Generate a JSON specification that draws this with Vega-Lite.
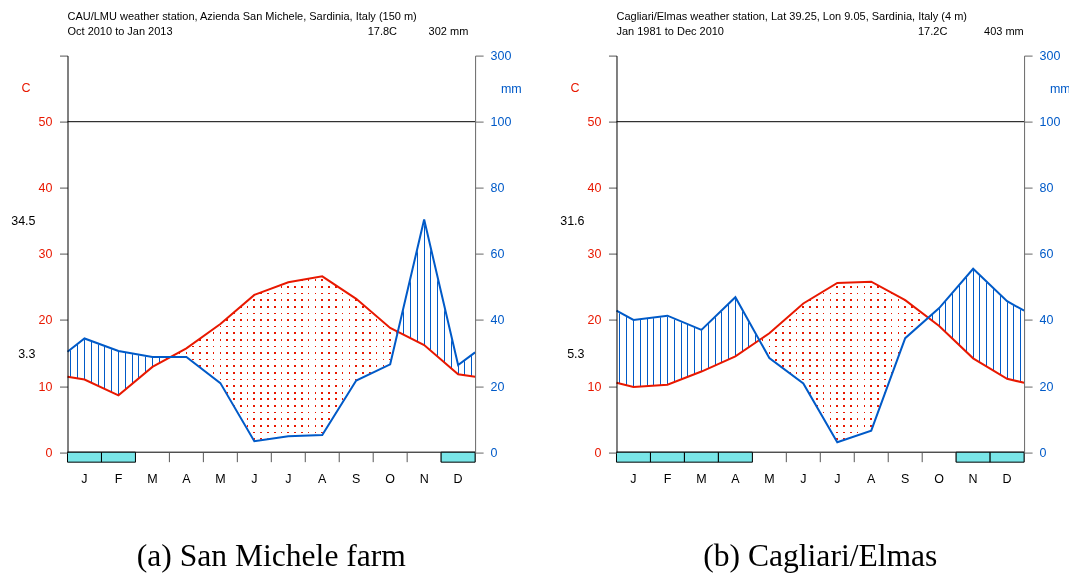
{
"$schema":"https://vega.github.io/schema/vega-lite/v6.json",
"background":"white",
"padding":{"left":10.5,"top":10.6,"right":0,"bottom":0},
"spacing":141,
"bounds":"flush",
"config":{"view":{"stroke":null},"text":{"font":"Liberation Sans","fontSize":12.5},"axis":{"labelFont":"Liberation Sans","titleFont":"Liberation Sans"}},
"datasets":{
"months":[{"m":1,"l":"J"},{"m":2,"l":"F"},{"m":3,"l":"M"},{"m":4,"l":"A"},{"m":5,"l":"M"},{"m":6,"l":"J"},{"m":7,"l":"J"},{"m":8,"l":"A"},{"m":9,"l":"S"},{"m":10,"l":"O"},{"m":11,"l":"N"},{"m":12,"l":"D"}],
"sm":[{"m":0.5,"t":11.4,"p":30.4},{"m":1,"t":11.0,"p":34.4},{"m":2,"t":8.6,"p":30.6},{"m":3,"t":12.9,"p":28.8},{"m":4,"t":15.7,"p":28.8},{"m":5,"t":19.4,"p":20.9},{"m":6,"t":23.8,"p":3.3},{"m":7,"t":25.7,"p":4.8},{"m":8,"t":26.6,"p":5.2},{"m":9,"t":23.2,"p":21.7},{"m":10,"t":18.8,"p":26.6},{"m":11,"t":16.2,"p":70.4},{"m":12,"t":11.8,"p":26.4},{"m":12.5,"t":11.4,"p":30.2}],
"ce":[{"m":0.5,"t":10.5,"p":42.8},{"m":1,"t":9.85,"p":40.0},{"m":2,"t":10.2,"p":41.3},{"m":3,"t":12.2,"p":37.0},{"m":4,"t":14.5,"p":46.9},{"m":5,"t":18.0,"p":28.5},{"m":6,"t":22.5,"p":20.8},{"m":7,"t":25.6,"p":3.0},{"m":8,"t":25.8,"p":6.5},{"m":9,"t":23.0,"p":34.5},{"m":10,"t":19.1,"p":43.6},{"m":11,"t":14.2,"p":55.5},{"m":12,"t":11.1,"p":45.7},{"m":12.5,"t":10.5,"p":42.8}]
},
"hconcat":[
{
"width":407.6,"height":396.6,
"data":{"name":"sm"},
"resolve":{"scale":{"y":"independent"}},
"layer":[
{"mark":{"type":"area","fill":{"gradient":"linear","x1":0,"y1":0,"x2":1,"y2":0,"stops":[
{"offset":0,"color":"#fff"},
{"offset":0.0071,"color":"#fff"},{"offset":0.0071,"color":"#005ac8"},{"offset":0.0095,"color":"#005ac8"},{"offset":0.0095,"color":"#fff"},
{"offset":0.0238,"color":"#fff"},{"offset":0.0238,"color":"#005ac8"},{"offset":0.0262,"color":"#005ac8"},{"offset":0.0262,"color":"#fff"},
{"offset":0.0405,"color":"#fff"},{"offset":0.0405,"color":"#005ac8"},{"offset":0.0429,"color":"#005ac8"},{"offset":0.0429,"color":"#fff"},
{"offset":0.0571,"color":"#fff"},{"offset":0.0571,"color":"#005ac8"},{"offset":0.0595,"color":"#005ac8"},{"offset":0.0595,"color":"#fff"},
{"offset":0.0738,"color":"#fff"},{"offset":0.0738,"color":"#005ac8"},{"offset":0.0762,"color":"#005ac8"},{"offset":0.0762,"color":"#fff"},
{"offset":0.0905,"color":"#fff"},{"offset":0.0905,"color":"#005ac8"},{"offset":0.0929,"color":"#005ac8"},{"offset":0.0929,"color":"#fff"},
{"offset":0.1071,"color":"#fff"},{"offset":0.1071,"color":"#005ac8"},{"offset":0.1095,"color":"#005ac8"},{"offset":0.1095,"color":"#fff"},
{"offset":0.1238,"color":"#fff"},{"offset":0.1238,"color":"#005ac8"},{"offset":0.1262,"color":"#005ac8"},{"offset":0.1262,"color":"#fff"},
{"offset":0.1405,"color":"#fff"},{"offset":0.1405,"color":"#005ac8"},{"offset":0.1429,"color":"#005ac8"},{"offset":0.1429,"color":"#fff"},
{"offset":0.1571,"color":"#fff"},{"offset":0.1571,"color":"#005ac8"},{"offset":0.1595,"color":"#005ac8"},{"offset":0.1595,"color":"#fff"},
{"offset":0.1738,"color":"#fff"},{"offset":0.1738,"color":"#005ac8"},{"offset":0.1762,"color":"#005ac8"},{"offset":0.1762,"color":"#fff"},
{"offset":0.1905,"color":"#fff"},{"offset":0.1905,"color":"#005ac8"},{"offset":0.1929,"color":"#005ac8"},{"offset":0.1929,"color":"#fff"},
{"offset":0.2071,"color":"#fff"},{"offset":0.2071,"color":"#005ac8"},{"offset":0.2095,"color":"#005ac8"},{"offset":0.2095,"color":"#fff"},
{"offset":0.2238,"color":"#fff"},{"offset":0.2238,"color":"#005ac8"},{"offset":0.2262,"color":"#005ac8"},{"offset":0.2262,"color":"#fff"},
{"offset":0.2405,"color":"#fff"},{"offset":0.2405,"color":"#005ac8"},{"offset":0.2429,"color":"#005ac8"},{"offset":0.2429,"color":"#fff"},
{"offset":0.8238,"color":"#fff"},{"offset":0.8238,"color":"#005ac8"},{"offset":0.8262,"color":"#005ac8"},{"offset":0.8262,"color":"#fff"},
{"offset":0.8405,"color":"#fff"},{"offset":0.8405,"color":"#005ac8"},{"offset":0.8429,"color":"#005ac8"},{"offset":0.8429,"color":"#fff"},
{"offset":0.8571,"color":"#fff"},{"offset":0.8571,"color":"#005ac8"},{"offset":0.8595,"color":"#005ac8"},{"offset":0.8595,"color":"#fff"},
{"offset":0.8738,"color":"#fff"},{"offset":0.8738,"color":"#005ac8"},{"offset":0.8762,"color":"#005ac8"},{"offset":0.8762,"color":"#fff"},
{"offset":0.8905,"color":"#fff"},{"offset":0.8905,"color":"#005ac8"},{"offset":0.8929,"color":"#005ac8"},{"offset":0.8929,"color":"#fff"},
{"offset":0.9071,"color":"#fff"},{"offset":0.9071,"color":"#005ac8"},{"offset":0.9095,"color":"#005ac8"},{"offset":0.9095,"color":"#fff"},
{"offset":0.9238,"color":"#fff"},{"offset":0.9238,"color":"#005ac8"},{"offset":0.9262,"color":"#005ac8"},{"offset":0.9262,"color":"#fff"},
{"offset":0.9405,"color":"#fff"},{"offset":0.9405,"color":"#005ac8"},{"offset":0.9429,"color":"#005ac8"},{"offset":0.9429,"color":"#fff"},
{"offset":0.9571,"color":"#fff"},{"offset":0.9571,"color":"#005ac8"},{"offset":0.9595,"color":"#005ac8"},{"offset":0.9595,"color":"#fff"},
{"offset":0.9738,"color":"#fff"},{"offset":0.9738,"color":"#005ac8"},{"offset":0.9762,"color":"#005ac8"},{"offset":0.9762,"color":"#fff"},
{"offset":0.9905,"color":"#fff"},{"offset":0.9905,"color":"#005ac8"},{"offset":0.9929,"color":"#005ac8"},{"offset":0.9929,"color":"#fff"},
{"offset":1,"color":"#fff"}]}},
"encoding":{"x":{"field":"m","type":"quantitative","scale":{"domain":[0.5,12.5],"nice":false,"zero":false,"padding":0},"axis":null},"y":{"field":"p","type":"quantitative","scale":{"domain":[0,120]},"axis":null}}},
{"mark":{"type":"area","fill":{"gradient":"linear","x1":0,"y1":0,"x2":1,"y2":0,"stops":[
{"offset":0,"color":"#fff"},
{"offset":0.2563,"color":"#fff"},{"offset":0.2563,"color":"#e81800"},{"offset":0.2603,"color":"#e81800"},{"offset":0.2603,"color":"#fff"},
{"offset":0.2730,"color":"#fff"},{"offset":0.2730,"color":"#e81800"},{"offset":0.2770,"color":"#e81800"},{"offset":0.2770,"color":"#fff"},
{"offset":0.2897,"color":"#fff"},{"offset":0.2897,"color":"#e81800"},{"offset":0.2937,"color":"#e81800"},{"offset":0.2937,"color":"#fff"},
{"offset":0.3063,"color":"#fff"},{"offset":0.3063,"color":"#e81800"},{"offset":0.3103,"color":"#e81800"},{"offset":0.3103,"color":"#fff"},
{"offset":0.3230,"color":"#fff"},{"offset":0.3230,"color":"#e81800"},{"offset":0.3270,"color":"#e81800"},{"offset":0.3270,"color":"#fff"},
{"offset":0.3397,"color":"#fff"},{"offset":0.3397,"color":"#e81800"},{"offset":0.3437,"color":"#e81800"},{"offset":0.3437,"color":"#fff"},
{"offset":0.3563,"color":"#fff"},{"offset":0.3563,"color":"#e81800"},{"offset":0.3603,"color":"#e81800"},{"offset":0.3603,"color":"#fff"},
{"offset":0.3730,"color":"#fff"},{"offset":0.3730,"color":"#e81800"},{"offset":0.3770,"color":"#e81800"},{"offset":0.3770,"color":"#fff"},
{"offset":0.3897,"color":"#fff"},{"offset":0.3897,"color":"#e81800"},{"offset":0.3937,"color":"#e81800"},{"offset":0.3937,"color":"#fff"},
{"offset":0.4063,"color":"#fff"},{"offset":0.4063,"color":"#e81800"},{"offset":0.4103,"color":"#e81800"},{"offset":0.4103,"color":"#fff"},
{"offset":0.4230,"color":"#fff"},{"offset":0.4230,"color":"#e81800"},{"offset":0.4270,"color":"#e81800"},{"offset":0.4270,"color":"#fff"},
{"offset":0.4397,"color":"#fff"},{"offset":0.4397,"color":"#e81800"},{"offset":0.4437,"color":"#e81800"},{"offset":0.4437,"color":"#fff"},
{"offset":0.4563,"color":"#fff"},{"offset":0.4563,"color":"#e81800"},{"offset":0.4603,"color":"#e81800"},{"offset":0.4603,"color":"#fff"},
{"offset":0.4730,"color":"#fff"},{"offset":0.4730,"color":"#e81800"},{"offset":0.4770,"color":"#e81800"},{"offset":0.4770,"color":"#fff"},
{"offset":0.4897,"color":"#fff"},{"offset":0.4897,"color":"#e81800"},{"offset":0.4937,"color":"#e81800"},{"offset":0.4937,"color":"#fff"},
{"offset":0.5063,"color":"#fff"},{"offset":0.5063,"color":"#e81800"},{"offset":0.5103,"color":"#e81800"},{"offset":0.5103,"color":"#fff"},
{"offset":0.5230,"color":"#fff"},{"offset":0.5230,"color":"#e81800"},{"offset":0.5270,"color":"#e81800"},{"offset":0.5270,"color":"#fff"},
{"offset":0.5397,"color":"#fff"},{"offset":0.5397,"color":"#e81800"},{"offset":0.5437,"color":"#e81800"},{"offset":0.5437,"color":"#fff"},
{"offset":0.5563,"color":"#fff"},{"offset":0.5563,"color":"#e81800"},{"offset":0.5603,"color":"#e81800"},{"offset":0.5603,"color":"#fff"},
{"offset":0.5730,"color":"#fff"},{"offset":0.5730,"color":"#e81800"},{"offset":0.5770,"color":"#e81800"},{"offset":0.5770,"color":"#fff"},
{"offset":0.5897,"color":"#fff"},{"offset":0.5897,"color":"#e81800"},{"offset":0.5937,"color":"#e81800"},{"offset":0.5937,"color":"#fff"},
{"offset":0.6063,"color":"#fff"},{"offset":0.6063,"color":"#e81800"},{"offset":0.6103,"color":"#e81800"},{"offset":0.6103,"color":"#fff"},
{"offset":0.6230,"color":"#fff"},{"offset":0.6230,"color":"#e81800"},{"offset":0.6270,"color":"#e81800"},{"offset":0.6270,"color":"#fff"},
{"offset":0.6397,"color":"#fff"},{"offset":0.6397,"color":"#e81800"},{"offset":0.6437,"color":"#e81800"},{"offset":0.6437,"color":"#fff"},
{"offset":0.6563,"color":"#fff"},{"offset":0.6563,"color":"#e81800"},{"offset":0.6603,"color":"#e81800"},{"offset":0.6603,"color":"#fff"},
{"offset":0.6730,"color":"#fff"},{"offset":0.6730,"color":"#e81800"},{"offset":0.6770,"color":"#e81800"},{"offset":0.6770,"color":"#fff"},
{"offset":0.6897,"color":"#fff"},{"offset":0.6897,"color":"#e81800"},{"offset":0.6937,"color":"#e81800"},{"offset":0.6937,"color":"#fff"},
{"offset":0.7063,"color":"#fff"},{"offset":0.7063,"color":"#e81800"},{"offset":0.7103,"color":"#e81800"},{"offset":0.7103,"color":"#fff"},
{"offset":0.7230,"color":"#fff"},{"offset":0.7230,"color":"#e81800"},{"offset":0.7270,"color":"#e81800"},{"offset":0.7270,"color":"#fff"},
{"offset":0.7397,"color":"#fff"},{"offset":0.7397,"color":"#e81800"},{"offset":0.7437,"color":"#e81800"},{"offset":0.7437,"color":"#fff"},
{"offset":0.7563,"color":"#fff"},{"offset":0.7563,"color":"#e81800"},{"offset":0.7603,"color":"#e81800"},{"offset":0.7603,"color":"#fff"},
{"offset":0.7730,"color":"#fff"},{"offset":0.7730,"color":"#e81800"},{"offset":0.7770,"color":"#e81800"},{"offset":0.7770,"color":"#fff"},
{"offset":0.7897,"color":"#fff"},{"offset":0.7897,"color":"#e81800"},{"offset":0.7937,"color":"#e81800"},{"offset":0.7937,"color":"#fff"},
{"offset":0.8063,"color":"#fff"},{"offset":0.8063,"color":"#e81800"},{"offset":0.8103,"color":"#e81800"},{"offset":0.8103,"color":"#fff"},
{"offset":1,"color":"#fff"}]}},
"encoding":{"x":{"field":"m","type":"quantitative","scale":{"domain":[0.5,12.5],"nice":false,"zero":false,"padding":0},"axis":null},"y":{"field":"t","type":"quantitative","scale":{"domain":[0,60]},"axis":null}}},
{"mark":{"type":"area","stroke":"#fff","strokeWidth":1.5,"fill":{"gradient":"linear","x1":0,"y1":0,"x2":1,"y2":0,"stops":[
{"offset":0,"color":"rgba(255,255,255,0)"},{"offset":0.2542,"color":"rgba(255,255,255,0)"},{"offset":0.2542,"color":"#fff"},{"offset":0.81,"color":"#fff"},{"offset":0.81,"color":"rgba(255,255,255,0)"},{"offset":1,"color":"rgba(255,255,255,0)"}]}},
"encoding":{"x":{"field":"m","type":"quantitative","scale":{"domain":[0.5,12.5],"nice":false,"zero":false,"padding":0},"axis":null},"y":{"field":"p","type":"quantitative","scale":{"domain":[0,120]},"axis":null}}},
{"mark":{"type":"area","blend":"lighten","fill":{"gradient":"linear","x1":0,"y1":0,"x2":0,"y2":1,"stops":[
{"offset":0,"color":"#fff"},
{"offset":0.0178,"color":"#fff"},{"offset":0.0178,"color":"#e81800"},{"offset":0.0274,"color":"#e81800"},{"offset":0.0274,"color":"#fff"},
{"offset":0.0554,"color":"#fff"},{"offset":0.0554,"color":"#e81800"},{"offset":0.0650,"color":"#e81800"},{"offset":0.0650,"color":"#fff"},
{"offset":0.0929,"color":"#fff"},{"offset":0.0929,"color":"#e81800"},{"offset":0.1025,"color":"#e81800"},{"offset":0.1025,"color":"#fff"},
{"offset":0.1305,"color":"#fff"},{"offset":0.1305,"color":"#e81800"},{"offset":0.1401,"color":"#e81800"},{"offset":0.1401,"color":"#fff"},
{"offset":0.1681,"color":"#fff"},{"offset":0.1681,"color":"#e81800"},{"offset":0.1777,"color":"#e81800"},{"offset":0.1777,"color":"#fff"},
{"offset":0.2057,"color":"#fff"},{"offset":0.2057,"color":"#e81800"},{"offset":0.2153,"color":"#e81800"},{"offset":0.2153,"color":"#fff"},
{"offset":0.2433,"color":"#fff"},{"offset":0.2433,"color":"#e81800"},{"offset":0.2529,"color":"#e81800"},{"offset":0.2529,"color":"#fff"},
{"offset":0.2809,"color":"#fff"},{"offset":0.2809,"color":"#e81800"},{"offset":0.2905,"color":"#e81800"},{"offset":0.2905,"color":"#fff"},
{"offset":0.3185,"color":"#fff"},{"offset":0.3185,"color":"#e81800"},{"offset":0.3281,"color":"#e81800"},{"offset":0.3281,"color":"#fff"},
{"offset":0.3561,"color":"#fff"},{"offset":0.3561,"color":"#e81800"},{"offset":0.3657,"color":"#e81800"},{"offset":0.3657,"color":"#fff"},
{"offset":0.3937,"color":"#fff"},{"offset":0.3937,"color":"#e81800"},{"offset":0.4033,"color":"#e81800"},{"offset":0.4033,"color":"#fff"},
{"offset":0.4313,"color":"#fff"},{"offset":0.4313,"color":"#e81800"},{"offset":0.4409,"color":"#e81800"},{"offset":0.4409,"color":"#fff"},
{"offset":0.4689,"color":"#fff"},{"offset":0.4689,"color":"#e81800"},{"offset":0.4785,"color":"#e81800"},{"offset":0.4785,"color":"#fff"},
{"offset":0.5065,"color":"#fff"},{"offset":0.5065,"color":"#e81800"},{"offset":0.5161,"color":"#e81800"},{"offset":0.5161,"color":"#fff"},
{"offset":0.5441,"color":"#fff"},{"offset":0.5441,"color":"#e81800"},{"offset":0.5537,"color":"#e81800"},{"offset":0.5537,"color":"#fff"},
{"offset":0.5817,"color":"#fff"},{"offset":0.5817,"color":"#e81800"},{"offset":0.5913,"color":"#e81800"},{"offset":0.5913,"color":"#fff"},
{"offset":0.6193,"color":"#fff"},{"offset":0.6193,"color":"#e81800"},{"offset":0.6289,"color":"#e81800"},{"offset":0.6289,"color":"#fff"},
{"offset":0.6569,"color":"#fff"},{"offset":0.6569,"color":"#e81800"},{"offset":0.6665,"color":"#e81800"},{"offset":0.6665,"color":"#fff"},
{"offset":0.6944,"color":"#fff"},{"offset":0.6944,"color":"#e81800"},{"offset":0.7040,"color":"#e81800"},{"offset":0.7040,"color":"#fff"},
{"offset":0.7320,"color":"#fff"},{"offset":0.7320,"color":"#e81800"},{"offset":0.7416,"color":"#e81800"},{"offset":0.7416,"color":"#fff"},
{"offset":0.7696,"color":"#fff"},{"offset":0.7696,"color":"#e81800"},{"offset":0.7792,"color":"#e81800"},{"offset":0.7792,"color":"#fff"},
{"offset":0.8072,"color":"#fff"},{"offset":0.8072,"color":"#e81800"},{"offset":0.8168,"color":"#e81800"},{"offset":0.8168,"color":"#fff"},
{"offset":0.8448,"color":"#fff"},{"offset":0.8448,"color":"#e81800"},{"offset":0.8544,"color":"#e81800"},{"offset":0.8544,"color":"#fff"},
{"offset":0.8824,"color":"#fff"},{"offset":0.8824,"color":"#e81800"},{"offset":0.8920,"color":"#e81800"},{"offset":0.8920,"color":"#fff"},
{"offset":0.9200,"color":"#fff"},{"offset":0.9200,"color":"#e81800"},{"offset":0.9296,"color":"#e81800"},{"offset":0.9296,"color":"#fff"},
{"offset":1,"color":"#fff"}]}},
"encoding":{"x":{"field":"m","type":"quantitative","scale":{"domain":[0.5,12.5],"nice":false,"zero":false,"padding":0},"axis":null},"y":{"field":"t","type":"quantitative","scale":{"domain":[0,60]},"axis":null}}},
{"data":{"values":[{}]},"mark":{"type":"rule","color":"#000","strokeWidth":1},"encoding":{"y":{"datum":50,"type":"quantitative","scale":{"domain":[0,60]},"axis":null}}},
{"data":{"values":[{}]},"mark":{"type":"rule","color":"#000","strokeWidth":1},"encoding":{"y":{"datum":0,"type":"quantitative","scale":{"domain":[0,60]},"axis":null}}},
{"data":{"name":"months"},"mark":{"type":"rule","color":"#555","strokeWidth":1,"xOffset":16.98},"encoding":{"x":{"field":"m","type":"quantitative","scale":{"domain":[0.5,12.5],"nice":false,"zero":false,"padding":0},"axis":null},"y":{"datum":0,"type":"quantitative","scale":{"domain":[0,60]},"axis":null},"y2":{"datum":-1.51}}},
{"data":{"values":[{"m":1},{"m":2},{"m":12}]},"mark":{"type":"bar","fill":"#79e6e8","stroke":"#000","strokeWidth":1,"width":33.97},"encoding":{"x":{"field":"m","type":"quantitative","scale":{"domain":[0.5,12.5],"nice":false,"zero":false,"padding":0},"axis":null},"y":{"datum":0,"type":"quantitative","scale":{"domain":[0,60]},"axis":null},"y2":{"datum":-1.51}}},
{"data":{"name":"months"},"mark":{"type":"text","baseline":"middle","align":"center","fontSize":12.5,"color":"#000"},"encoding":{"x":{"field":"m","type":"quantitative","scale":{"domain":[0.5,12.5],"nice":false,"zero":false,"padding":0},"axis":null},"y":{"datum":-4.1,"type":"quantitative","scale":{"domain":[0,60]},"axis":null},"text":{"field":"l"}}},
{"mark":{"type":"line","color":"#e81800","strokeWidth":2},"encoding":{"x":{"field":"m","type":"quantitative","scale":{"domain":[0.5,12.5],"nice":false,"zero":false,"padding":0},"axis":null},"y":{"field":"t","type":"quantitative","scale":{"domain":[0,60]},"axis":{"orient":"left","values":[0,10,20,30,40,50,60],"labelExpr":"datum.value == 60 ? '' : datum.label","labelColor":"#e81800","labelFontSize":12.5,"labelPadding":7.5,"tickSize":8,"tickColor":"#555","domainColor":"#000","grid":false,"title":"C","titleColor":"#e81800","titleFontSize":12.5,"titleFontWeight":"normal","titleAngle":0,"titleAlign":"center","titleBaseline":"middle","titleX":-42,"titleY":32.3,"zindex":1}}}},
{"mark":{"type":"line","color":"#005ac8","strokeWidth":2},"encoding":{"x":{"field":"m","type":"quantitative","scale":{"domain":[0.5,12.5],"nice":false,"zero":false,"padding":0},"axis":null},"y":{"field":"p","type":"quantitative","scale":{"domain":[0,120]},"axis":{"orient":"right","values":[0,20,40,60,80,100,120],"labelExpr":"datum.value == 120 ? '300' : datum.label","labelColor":"#005ac8","labelFontSize":12.5,"labelPadding":7,"tickSize":8,"tickColor":"#666","domainColor":"#666","grid":false,"title":"mm","titleColor":"#005ac8","titleFontSize":12.5,"titleFontWeight":"normal","titleAngle":0,"titleAlign":"center","titleBaseline":"middle","titleX":35.7,"titleY":33.3,"zindex":1}}}},
{"data":{"values":[{"s":"CAU/LMU weather station, Azienda San Michele, Sardinia, Italy (150 m)"}]},"mark":{"type":"text","align":"left","baseline":"alphabetic","fontSize":11,"color":"#000"},"encoding":{"x":{"datum":0.5,"type":"quantitative","scale":{"domain":[0.5,12.5],"nice":false,"zero":false,"padding":0},"axis":null},"y":{"datum":65.35,"type":"quantitative","scale":{"domain":[0,60]},"axis":null},"text":{"field":"s"}}},
{"data":{"values":[{"s":"Oct 2010 to Jan 2013"}]},"mark":{"type":"text","align":"left","baseline":"alphabetic","fontSize":11,"color":"#000"},"encoding":{"x":{"datum":0.5,"type":"quantitative","scale":{"domain":[0.5,12.5],"nice":false,"zero":false,"padding":0},"axis":null},"y":{"datum":63.18,"type":"quantitative","scale":{"domain":[0,60]},"axis":null},"text":{"field":"s"}}},
{"data":{"values":[{"s":"17.8C"}]},"mark":{"type":"text","align":"right","baseline":"alphabetic","fontSize":11,"color":"#000"},"encoding":{"x":{"datum":10.2,"type":"quantitative","scale":{"domain":[0.5,12.5],"nice":false,"zero":false,"padding":0},"axis":null},"y":{"datum":63.18,"type":"quantitative","scale":{"domain":[0,60]},"axis":null},"text":{"field":"s"}}},
{"data":{"values":[{"s":"302 mm"}]},"mark":{"type":"text","align":"right","baseline":"alphabetic","fontSize":11,"color":"#000"},"encoding":{"x":{"datum":12.3,"type":"quantitative","scale":{"domain":[0.5,12.5],"nice":false,"zero":false,"padding":0},"axis":null},"y":{"datum":63.18,"type":"quantitative","scale":{"domain":[0,60]},"axis":null},"text":{"field":"s"}}},
{"data":{"values":[{"s":"34.5"}]},"mark":{"type":"text","align":"right","baseline":"middle","fontSize":12.5,"color":"#000","dx":-32},"encoding":{"x":{"datum":0.5,"type":"quantitative","scale":{"domain":[0.5,12.5],"nice":false,"zero":false,"padding":0},"axis":null},"y":{"datum":35,"type":"quantitative","scale":{"domain":[0,60]},"axis":null},"text":{"field":"s"}}},
{"data":{"values":[{"s":"3.3"}]},"mark":{"type":"text","align":"right","baseline":"middle","fontSize":12.5,"color":"#000","dx":-32},"encoding":{"x":{"datum":0.5,"type":"quantitative","scale":{"domain":[0.5,12.5],"nice":false,"zero":false,"padding":0},"axis":null},"y":{"datum":14.9,"type":"quantitative","scale":{"domain":[0,60]},"axis":null},"text":{"field":"s"}}},
{"data":{"values":[{"s":"(a) San Michele farm"}]},"mark":{"type":"text","align":"center","baseline":"middle","font":"Liberation Serif","fontSize":31.6,"color":"#000"},"encoding":{"x":{"datum":6.5,"type":"quantitative","scale":{"domain":[0.5,12.5],"nice":false,"zero":false,"padding":0},"axis":null},"y":{"datum":-15.9,"type":"quantitative","scale":{"domain":[0,60]},"axis":null},"text":{"field":"s"}}}
]
},
{
"width":407.6,"height":396.6,
"data":{"name":"ce"},
"resolve":{"scale":{"y":"independent"}},
"layer":[
{"mark":{"type":"area","fill":{"gradient":"linear","x1":0,"y1":0,"x2":1,"y2":0,"stops":[
{"offset":0,"color":"#fff"},
{"offset":0.0071,"color":"#fff"},{"offset":0.0071,"color":"#005ac8"},{"offset":0.0095,"color":"#005ac8"},{"offset":0.0095,"color":"#fff"},
{"offset":0.0238,"color":"#fff"},{"offset":0.0238,"color":"#005ac8"},{"offset":0.0262,"color":"#005ac8"},{"offset":0.0262,"color":"#fff"},
{"offset":0.0405,"color":"#fff"},{"offset":0.0405,"color":"#005ac8"},{"offset":0.0429,"color":"#005ac8"},{"offset":0.0429,"color":"#fff"},
{"offset":0.0571,"color":"#fff"},{"offset":0.0571,"color":"#005ac8"},{"offset":0.0595,"color":"#005ac8"},{"offset":0.0595,"color":"#fff"},
{"offset":0.0738,"color":"#fff"},{"offset":0.0738,"color":"#005ac8"},{"offset":0.0762,"color":"#005ac8"},{"offset":0.0762,"color":"#fff"},
{"offset":0.0905,"color":"#fff"},{"offset":0.0905,"color":"#005ac8"},{"offset":0.0929,"color":"#005ac8"},{"offset":0.0929,"color":"#fff"},
{"offset":0.1071,"color":"#fff"},{"offset":0.1071,"color":"#005ac8"},{"offset":0.1095,"color":"#005ac8"},{"offset":0.1095,"color":"#fff"},
{"offset":0.1238,"color":"#fff"},{"offset":0.1238,"color":"#005ac8"},{"offset":0.1262,"color":"#005ac8"},{"offset":0.1262,"color":"#fff"},
{"offset":0.1405,"color":"#fff"},{"offset":0.1405,"color":"#005ac8"},{"offset":0.1429,"color":"#005ac8"},{"offset":0.1429,"color":"#fff"},
{"offset":0.1571,"color":"#fff"},{"offset":0.1571,"color":"#005ac8"},{"offset":0.1595,"color":"#005ac8"},{"offset":0.1595,"color":"#fff"},
{"offset":0.1738,"color":"#fff"},{"offset":0.1738,"color":"#005ac8"},{"offset":0.1762,"color":"#005ac8"},{"offset":0.1762,"color":"#fff"},
{"offset":0.1905,"color":"#fff"},{"offset":0.1905,"color":"#005ac8"},{"offset":0.1929,"color":"#005ac8"},{"offset":0.1929,"color":"#fff"},
{"offset":0.2071,"color":"#fff"},{"offset":0.2071,"color":"#005ac8"},{"offset":0.2095,"color":"#005ac8"},{"offset":0.2095,"color":"#fff"},
{"offset":0.2238,"color":"#fff"},{"offset":0.2238,"color":"#005ac8"},{"offset":0.2262,"color":"#005ac8"},{"offset":0.2262,"color":"#fff"},
{"offset":0.2405,"color":"#fff"},{"offset":0.2405,"color":"#005ac8"},{"offset":0.2429,"color":"#005ac8"},{"offset":0.2429,"color":"#fff"},
{"offset":0.2571,"color":"#fff"},{"offset":0.2571,"color":"#005ac8"},{"offset":0.2595,"color":"#005ac8"},{"offset":0.2595,"color":"#fff"},
{"offset":0.2738,"color":"#fff"},{"offset":0.2738,"color":"#005ac8"},{"offset":0.2762,"color":"#005ac8"},{"offset":0.2762,"color":"#fff"},
{"offset":0.2905,"color":"#fff"},{"offset":0.2905,"color":"#005ac8"},{"offset":0.2929,"color":"#005ac8"},{"offset":0.2929,"color":"#fff"},
{"offset":0.3071,"color":"#fff"},{"offset":0.3071,"color":"#005ac8"},{"offset":0.3095,"color":"#005ac8"},{"offset":0.3095,"color":"#fff"},
{"offset":0.3238,"color":"#fff"},{"offset":0.3238,"color":"#005ac8"},{"offset":0.3262,"color":"#005ac8"},{"offset":0.3262,"color":"#fff"},
{"offset":0.3405,"color":"#fff"},{"offset":0.3405,"color":"#005ac8"},{"offset":0.3429,"color":"#005ac8"},{"offset":0.3429,"color":"#fff"},
{"offset":0.7738,"color":"#fff"},{"offset":0.7738,"color":"#005ac8"},{"offset":0.7762,"color":"#005ac8"},{"offset":0.7762,"color":"#fff"},
{"offset":0.7905,"color":"#fff"},{"offset":0.7905,"color":"#005ac8"},{"offset":0.7929,"color":"#005ac8"},{"offset":0.7929,"color":"#fff"},
{"offset":0.8071,"color":"#fff"},{"offset":0.8071,"color":"#005ac8"},{"offset":0.8095,"color":"#005ac8"},{"offset":0.8095,"color":"#fff"},
{"offset":0.8238,"color":"#fff"},{"offset":0.8238,"color":"#005ac8"},{"offset":0.8262,"color":"#005ac8"},{"offset":0.8262,"color":"#fff"},
{"offset":0.8405,"color":"#fff"},{"offset":0.8405,"color":"#005ac8"},{"offset":0.8429,"color":"#005ac8"},{"offset":0.8429,"color":"#fff"},
{"offset":0.8571,"color":"#fff"},{"offset":0.8571,"color":"#005ac8"},{"offset":0.8595,"color":"#005ac8"},{"offset":0.8595,"color":"#fff"},
{"offset":0.8738,"color":"#fff"},{"offset":0.8738,"color":"#005ac8"},{"offset":0.8762,"color":"#005ac8"},{"offset":0.8762,"color":"#fff"},
{"offset":0.8905,"color":"#fff"},{"offset":0.8905,"color":"#005ac8"},{"offset":0.8929,"color":"#005ac8"},{"offset":0.8929,"color":"#fff"},
{"offset":0.9071,"color":"#fff"},{"offset":0.9071,"color":"#005ac8"},{"offset":0.9095,"color":"#005ac8"},{"offset":0.9095,"color":"#fff"},
{"offset":0.9238,"color":"#fff"},{"offset":0.9238,"color":"#005ac8"},{"offset":0.9262,"color":"#005ac8"},{"offset":0.9262,"color":"#fff"},
{"offset":0.9405,"color":"#fff"},{"offset":0.9405,"color":"#005ac8"},{"offset":0.9429,"color":"#005ac8"},{"offset":0.9429,"color":"#fff"},
{"offset":0.9571,"color":"#fff"},{"offset":0.9571,"color":"#005ac8"},{"offset":0.9595,"color":"#005ac8"},{"offset":0.9595,"color":"#fff"},
{"offset":0.9738,"color":"#fff"},{"offset":0.9738,"color":"#005ac8"},{"offset":0.9762,"color":"#005ac8"},{"offset":0.9762,"color":"#fff"},
{"offset":0.9905,"color":"#fff"},{"offset":0.9905,"color":"#005ac8"},{"offset":0.9929,"color":"#005ac8"},{"offset":0.9929,"color":"#fff"},
{"offset":1,"color":"#fff"}]}},
"encoding":{"x":{"field":"m","type":"quantitative","scale":{"domain":[0.5,12.5],"nice":false,"zero":false,"padding":0},"axis":null},"y":{"field":"p","type":"quantitative","scale":{"domain":[0,120]},"axis":null}}},
{"mark":{"type":"area","fill":{"gradient":"linear","x1":0,"y1":0,"x2":1,"y2":0,"stops":[
{"offset":0,"color":"#fff"},
{"offset":0.3563,"color":"#fff"},{"offset":0.3563,"color":"#e81800"},{"offset":0.3603,"color":"#e81800"},{"offset":0.3603,"color":"#fff"},
{"offset":0.3730,"color":"#fff"},{"offset":0.3730,"color":"#e81800"},{"offset":0.3770,"color":"#e81800"},{"offset":0.3770,"color":"#fff"},
{"offset":0.3897,"color":"#fff"},{"offset":0.3897,"color":"#e81800"},{"offset":0.3937,"color":"#e81800"},{"offset":0.3937,"color":"#fff"},
{"offset":0.4063,"color":"#fff"},{"offset":0.4063,"color":"#e81800"},{"offset":0.4103,"color":"#e81800"},{"offset":0.4103,"color":"#fff"},
{"offset":0.4230,"color":"#fff"},{"offset":0.4230,"color":"#e81800"},{"offset":0.4270,"color":"#e81800"},{"offset":0.4270,"color":"#fff"},
{"offset":0.4397,"color":"#fff"},{"offset":0.4397,"color":"#e81800"},{"offset":0.4437,"color":"#e81800"},{"offset":0.4437,"color":"#fff"},
{"offset":0.4563,"color":"#fff"},{"offset":0.4563,"color":"#e81800"},{"offset":0.4603,"color":"#e81800"},{"offset":0.4603,"color":"#fff"},
{"offset":0.4730,"color":"#fff"},{"offset":0.4730,"color":"#e81800"},{"offset":0.4770,"color":"#e81800"},{"offset":0.4770,"color":"#fff"},
{"offset":0.4897,"color":"#fff"},{"offset":0.4897,"color":"#e81800"},{"offset":0.4937,"color":"#e81800"},{"offset":0.4937,"color":"#fff"},
{"offset":0.5063,"color":"#fff"},{"offset":0.5063,"color":"#e81800"},{"offset":0.5103,"color":"#e81800"},{"offset":0.5103,"color":"#fff"},
{"offset":0.5230,"color":"#fff"},{"offset":0.5230,"color":"#e81800"},{"offset":0.5270,"color":"#e81800"},{"offset":0.5270,"color":"#fff"},
{"offset":0.5397,"color":"#fff"},{"offset":0.5397,"color":"#e81800"},{"offset":0.5437,"color":"#e81800"},{"offset":0.5437,"color":"#fff"},
{"offset":0.5563,"color":"#fff"},{"offset":0.5563,"color":"#e81800"},{"offset":0.5603,"color":"#e81800"},{"offset":0.5603,"color":"#fff"},
{"offset":0.5730,"color":"#fff"},{"offset":0.5730,"color":"#e81800"},{"offset":0.5770,"color":"#e81800"},{"offset":0.5770,"color":"#fff"},
{"offset":0.5897,"color":"#fff"},{"offset":0.5897,"color":"#e81800"},{"offset":0.5937,"color":"#e81800"},{"offset":0.5937,"color":"#fff"},
{"offset":0.6063,"color":"#fff"},{"offset":0.6063,"color":"#e81800"},{"offset":0.6103,"color":"#e81800"},{"offset":0.6103,"color":"#fff"},
{"offset":0.6230,"color":"#fff"},{"offset":0.6230,"color":"#e81800"},{"offset":0.6270,"color":"#e81800"},{"offset":0.6270,"color":"#fff"},
{"offset":0.6397,"color":"#fff"},{"offset":0.6397,"color":"#e81800"},{"offset":0.6437,"color":"#e81800"},{"offset":0.6437,"color":"#fff"},
{"offset":0.6563,"color":"#fff"},{"offset":0.6563,"color":"#e81800"},{"offset":0.6603,"color":"#e81800"},{"offset":0.6603,"color":"#fff"},
{"offset":0.6730,"color":"#fff"},{"offset":0.6730,"color":"#e81800"},{"offset":0.6770,"color":"#e81800"},{"offset":0.6770,"color":"#fff"},
{"offset":0.6897,"color":"#fff"},{"offset":0.6897,"color":"#e81800"},{"offset":0.6937,"color":"#e81800"},{"offset":0.6937,"color":"#fff"},
{"offset":0.7063,"color":"#fff"},{"offset":0.7063,"color":"#e81800"},{"offset":0.7103,"color":"#e81800"},{"offset":0.7103,"color":"#fff"},
{"offset":0.7230,"color":"#fff"},{"offset":0.7230,"color":"#e81800"},{"offset":0.7270,"color":"#e81800"},{"offset":0.7270,"color":"#fff"},
{"offset":0.7397,"color":"#fff"},{"offset":0.7397,"color":"#e81800"},{"offset":0.7437,"color":"#e81800"},{"offset":0.7437,"color":"#fff"},
{"offset":0.7563,"color":"#fff"},{"offset":0.7563,"color":"#e81800"},{"offset":0.7603,"color":"#e81800"},{"offset":0.7603,"color":"#fff"},
{"offset":1,"color":"#fff"}]}},
"encoding":{"x":{"field":"m","type":"quantitative","scale":{"domain":[0.5,12.5],"nice":false,"zero":false,"padding":0},"axis":null},"y":{"field":"t","type":"quantitative","scale":{"domain":[0,60]},"axis":null}}},
{"mark":{"type":"area","stroke":"#fff","strokeWidth":1.5,"fill":{"gradient":"linear","x1":0,"y1":0,"x2":1,"y2":0,"stops":[
{"offset":0,"color":"rgba(255,255,255,0)"},{"offset":0.35,"color":"rgba(255,255,255,0)"},{"offset":0.35,"color":"#fff"},{"offset":0.765,"color":"#fff"},{"offset":0.765,"color":"rgba(255,255,255,0)"},{"offset":1,"color":"rgba(255,255,255,0)"}]}},
"encoding":{"x":{"field":"m","type":"quantitative","scale":{"domain":[0.5,12.5],"nice":false,"zero":false,"padding":0},"axis":null},"y":{"field":"p","type":"quantitative","scale":{"domain":[0,120]},"axis":null}}},
{"mark":{"type":"area","blend":"lighten","fill":{"gradient":"linear","x1":0,"y1":0,"x2":0,"y2":1,"stops":[
{"offset":0,"color":"#fff"},
{"offset":0.0260,"color":"#fff"},{"offset":0.0260,"color":"#e81800"},{"offset":0.0360,"color":"#e81800"},{"offset":0.0360,"color":"#fff"},
{"offset":0.0648,"color":"#fff"},{"offset":0.0648,"color":"#e81800"},{"offset":0.0748,"color":"#e81800"},{"offset":0.0748,"color":"#fff"},
{"offset":0.1035,"color":"#fff"},{"offset":0.1035,"color":"#e81800"},{"offset":0.1135,"color":"#e81800"},{"offset":0.1135,"color":"#fff"},
{"offset":0.1423,"color":"#fff"},{"offset":0.1423,"color":"#e81800"},{"offset":0.1523,"color":"#e81800"},{"offset":0.1523,"color":"#fff"},
{"offset":0.1810,"color":"#fff"},{"offset":0.1810,"color":"#e81800"},{"offset":0.1910,"color":"#e81800"},{"offset":0.1910,"color":"#fff"},
{"offset":0.2198,"color":"#fff"},{"offset":0.2198,"color":"#e81800"},{"offset":0.2298,"color":"#e81800"},{"offset":0.2298,"color":"#fff"},
{"offset":0.2586,"color":"#fff"},{"offset":0.2586,"color":"#e81800"},{"offset":0.2686,"color":"#e81800"},{"offset":0.2686,"color":"#fff"},
{"offset":0.2973,"color":"#fff"},{"offset":0.2973,"color":"#e81800"},{"offset":0.3073,"color":"#e81800"},{"offset":0.3073,"color":"#fff"},
{"offset":0.3361,"color":"#fff"},{"offset":0.3361,"color":"#e81800"},{"offset":0.3461,"color":"#e81800"},{"offset":0.3461,"color":"#fff"},
{"offset":0.3748,"color":"#fff"},{"offset":0.3748,"color":"#e81800"},{"offset":0.3848,"color":"#e81800"},{"offset":0.3848,"color":"#fff"},
{"offset":0.4136,"color":"#fff"},{"offset":0.4136,"color":"#e81800"},{"offset":0.4236,"color":"#e81800"},{"offset":0.4236,"color":"#fff"},
{"offset":0.4524,"color":"#fff"},{"offset":0.4524,"color":"#e81800"},{"offset":0.4624,"color":"#e81800"},{"offset":0.4624,"color":"#fff"},
{"offset":0.4911,"color":"#fff"},{"offset":0.4911,"color":"#e81800"},{"offset":0.5011,"color":"#e81800"},{"offset":0.5011,"color":"#fff"},
{"offset":0.5299,"color":"#fff"},{"offset":0.5299,"color":"#e81800"},{"offset":0.5399,"color":"#e81800"},{"offset":0.5399,"color":"#fff"},
{"offset":0.5686,"color":"#fff"},{"offset":0.5686,"color":"#e81800"},{"offset":0.5786,"color":"#e81800"},{"offset":0.5786,"color":"#fff"},
{"offset":0.6074,"color":"#fff"},{"offset":0.6074,"color":"#e81800"},{"offset":0.6174,"color":"#e81800"},{"offset":0.6174,"color":"#fff"},
{"offset":0.6462,"color":"#fff"},{"offset":0.6462,"color":"#e81800"},{"offset":0.6562,"color":"#e81800"},{"offset":0.6562,"color":"#fff"},
{"offset":0.6849,"color":"#fff"},{"offset":0.6849,"color":"#e81800"},{"offset":0.6949,"color":"#e81800"},{"offset":0.6949,"color":"#fff"},
{"offset":0.7237,"color":"#fff"},{"offset":0.7237,"color":"#e81800"},{"offset":0.7337,"color":"#e81800"},{"offset":0.7337,"color":"#fff"},
{"offset":0.7624,"color":"#fff"},{"offset":0.7624,"color":"#e81800"},{"offset":0.7724,"color":"#e81800"},{"offset":0.7724,"color":"#fff"},
{"offset":0.8012,"color":"#fff"},{"offset":0.8012,"color":"#e81800"},{"offset":0.8112,"color":"#e81800"},{"offset":0.8112,"color":"#fff"},
{"offset":0.8400,"color":"#fff"},{"offset":0.8400,"color":"#e81800"},{"offset":0.8500,"color":"#e81800"},{"offset":0.8500,"color":"#fff"},
{"offset":0.8787,"color":"#fff"},{"offset":0.8787,"color":"#e81800"},{"offset":0.8887,"color":"#e81800"},{"offset":0.8887,"color":"#fff"},
{"offset":0.9175,"color":"#fff"},{"offset":0.9175,"color":"#e81800"},{"offset":0.9275,"color":"#e81800"},{"offset":0.9275,"color":"#fff"},
{"offset":1,"color":"#fff"}]}},
"encoding":{"x":{"field":"m","type":"quantitative","scale":{"domain":[0.5,12.5],"nice":false,"zero":false,"padding":0},"axis":null},"y":{"field":"t","type":"quantitative","scale":{"domain":[0,60]},"axis":null}}},
{"data":{"values":[{}]},"mark":{"type":"rule","color":"#000","strokeWidth":1},"encoding":{"y":{"datum":50,"type":"quantitative","scale":{"domain":[0,60]},"axis":null}}},
{"data":{"values":[{}]},"mark":{"type":"rule","color":"#000","strokeWidth":1},"encoding":{"y":{"datum":0,"type":"quantitative","scale":{"domain":[0,60]},"axis":null}}},
{"data":{"name":"months"},"mark":{"type":"rule","color":"#555","strokeWidth":1,"xOffset":16.98},"encoding":{"x":{"field":"m","type":"quantitative","scale":{"domain":[0.5,12.5],"nice":false,"zero":false,"padding":0},"axis":null},"y":{"datum":0,"type":"quantitative","scale":{"domain":[0,60]},"axis":null},"y2":{"datum":-1.51}}},
{"data":{"values":[{"m":1},{"m":2},{"m":3},{"m":4},{"m":11},{"m":12}]},"mark":{"type":"bar","fill":"#79e6e8","stroke":"#000","strokeWidth":1,"width":33.97},"encoding":{"x":{"field":"m","type":"quantitative","scale":{"domain":[0.5,12.5],"nice":false,"zero":false,"padding":0},"axis":null},"y":{"datum":0,"type":"quantitative","scale":{"domain":[0,60]},"axis":null},"y2":{"datum":-1.51}}},
{"data":{"name":"months"},"mark":{"type":"text","baseline":"middle","align":"center","fontSize":12.5,"color":"#000"},"encoding":{"x":{"field":"m","type":"quantitative","scale":{"domain":[0.5,12.5],"nice":false,"zero":false,"padding":0},"axis":null},"y":{"datum":-4.1,"type":"quantitative","scale":{"domain":[0,60]},"axis":null},"text":{"field":"l"}}},
{"mark":{"type":"line","color":"#e81800","strokeWidth":2},"encoding":{"x":{"field":"m","type":"quantitative","scale":{"domain":[0.5,12.5],"nice":false,"zero":false,"padding":0},"axis":null},"y":{"field":"t","type":"quantitative","scale":{"domain":[0,60]},"axis":{"orient":"left","values":[0,10,20,30,40,50,60],"labelExpr":"datum.value == 60 ? '' : datum.label","labelColor":"#e81800","labelFontSize":12.5,"labelPadding":7.5,"tickSize":8,"tickColor":"#555","domainColor":"#000","grid":false,"title":"C","titleColor":"#e81800","titleFontSize":12.5,"titleFontWeight":"normal","titleAngle":0,"titleAlign":"center","titleBaseline":"middle","titleX":-42,"titleY":32.3,"zindex":1}}}},
{"mark":{"type":"line","color":"#005ac8","strokeWidth":2},"encoding":{"x":{"field":"m","type":"quantitative","scale":{"domain":[0.5,12.5],"nice":false,"zero":false,"padding":0},"axis":null},"y":{"field":"p","type":"quantitative","scale":{"domain":[0,120]},"axis":{"orient":"right","values":[0,20,40,60,80,100,120],"labelExpr":"datum.value == 120 ? '300' : datum.label","labelColor":"#005ac8","labelFontSize":12.5,"labelPadding":7,"tickSize":8,"tickColor":"#666","domainColor":"#666","grid":false,"title":"mm","titleColor":"#005ac8","titleFontSize":12.5,"titleFontWeight":"normal","titleAngle":0,"titleAlign":"center","titleBaseline":"middle","titleX":35.7,"titleY":33.3,"zindex":1}}}},
{"data":{"values":[{"s":"Cagliari/Elmas weather station, Lat 39.25, Lon 9.05, Sardinia, Italy (4 m)"}]},"mark":{"type":"text","align":"left","baseline":"alphabetic","fontSize":11,"color":"#000"},"encoding":{"x":{"datum":0.5,"type":"quantitative","scale":{"domain":[0.5,12.5],"nice":false,"zero":false,"padding":0},"axis":null},"y":{"datum":65.35,"type":"quantitative","scale":{"domain":[0,60]},"axis":null},"text":{"field":"s"}}},
{"data":{"values":[{"s":"Jan 1981 to Dec 2010"}]},"mark":{"type":"text","align":"left","baseline":"alphabetic","fontSize":11,"color":"#000"},"encoding":{"x":{"datum":0.5,"type":"quantitative","scale":{"domain":[0.5,12.5],"nice":false,"zero":false,"padding":0},"axis":null},"y":{"datum":63.18,"type":"quantitative","scale":{"domain":[0,60]},"axis":null},"text":{"field":"s"}}},
{"data":{"values":[{"s":"17.2C"}]},"mark":{"type":"text","align":"right","baseline":"alphabetic","fontSize":11,"color":"#000"},"encoding":{"x":{"datum":10.24,"type":"quantitative","scale":{"domain":[0.5,12.5],"nice":false,"zero":false,"padding":0},"axis":null},"y":{"datum":63.18,"type":"quantitative","scale":{"domain":[0,60]},"axis":null},"text":{"field":"s"}}},
{"data":{"values":[{"s":"403 mm"}]},"mark":{"type":"text","align":"right","baseline":"alphabetic","fontSize":11,"color":"#000"},"encoding":{"x":{"datum":12.49,"type":"quantitative","scale":{"domain":[0.5,12.5],"nice":false,"zero":false,"padding":0},"axis":null},"y":{"datum":63.18,"type":"quantitative","scale":{"domain":[0,60]},"axis":null},"text":{"field":"s"}}},
{"data":{"values":[{"s":"31.6"}]},"mark":{"type":"text","align":"right","baseline":"middle","fontSize":12.5,"color":"#000","dx":-32},"encoding":{"x":{"datum":0.5,"type":"quantitative","scale":{"domain":[0.5,12.5],"nice":false,"zero":false,"padding":0},"axis":null},"y":{"datum":35,"type":"quantitative","scale":{"domain":[0,60]},"axis":null},"text":{"field":"s"}}},
{"data":{"values":[{"s":"5.3"}]},"mark":{"type":"text","align":"right","baseline":"middle","fontSize":12.5,"color":"#000","dx":-32},"encoding":{"x":{"datum":0.5,"type":"quantitative","scale":{"domain":[0.5,12.5],"nice":false,"zero":false,"padding":0},"axis":null},"y":{"datum":14.9,"type":"quantitative","scale":{"domain":[0,60]},"axis":null},"text":{"field":"s"}}},
{"data":{"values":[{"s":"(b) Cagliari/Elmas"}]},"mark":{"type":"text","align":"center","baseline":"middle","font":"Liberation Serif","fontSize":31.6,"color":"#000"},"encoding":{"x":{"datum":6.5,"type":"quantitative","scale":{"domain":[0.5,12.5],"nice":false,"zero":false,"padding":0},"axis":null},"y":{"datum":-15.9,"type":"quantitative","scale":{"domain":[0,60]},"axis":null},"text":{"field":"s"}}}
]
}
]
}
